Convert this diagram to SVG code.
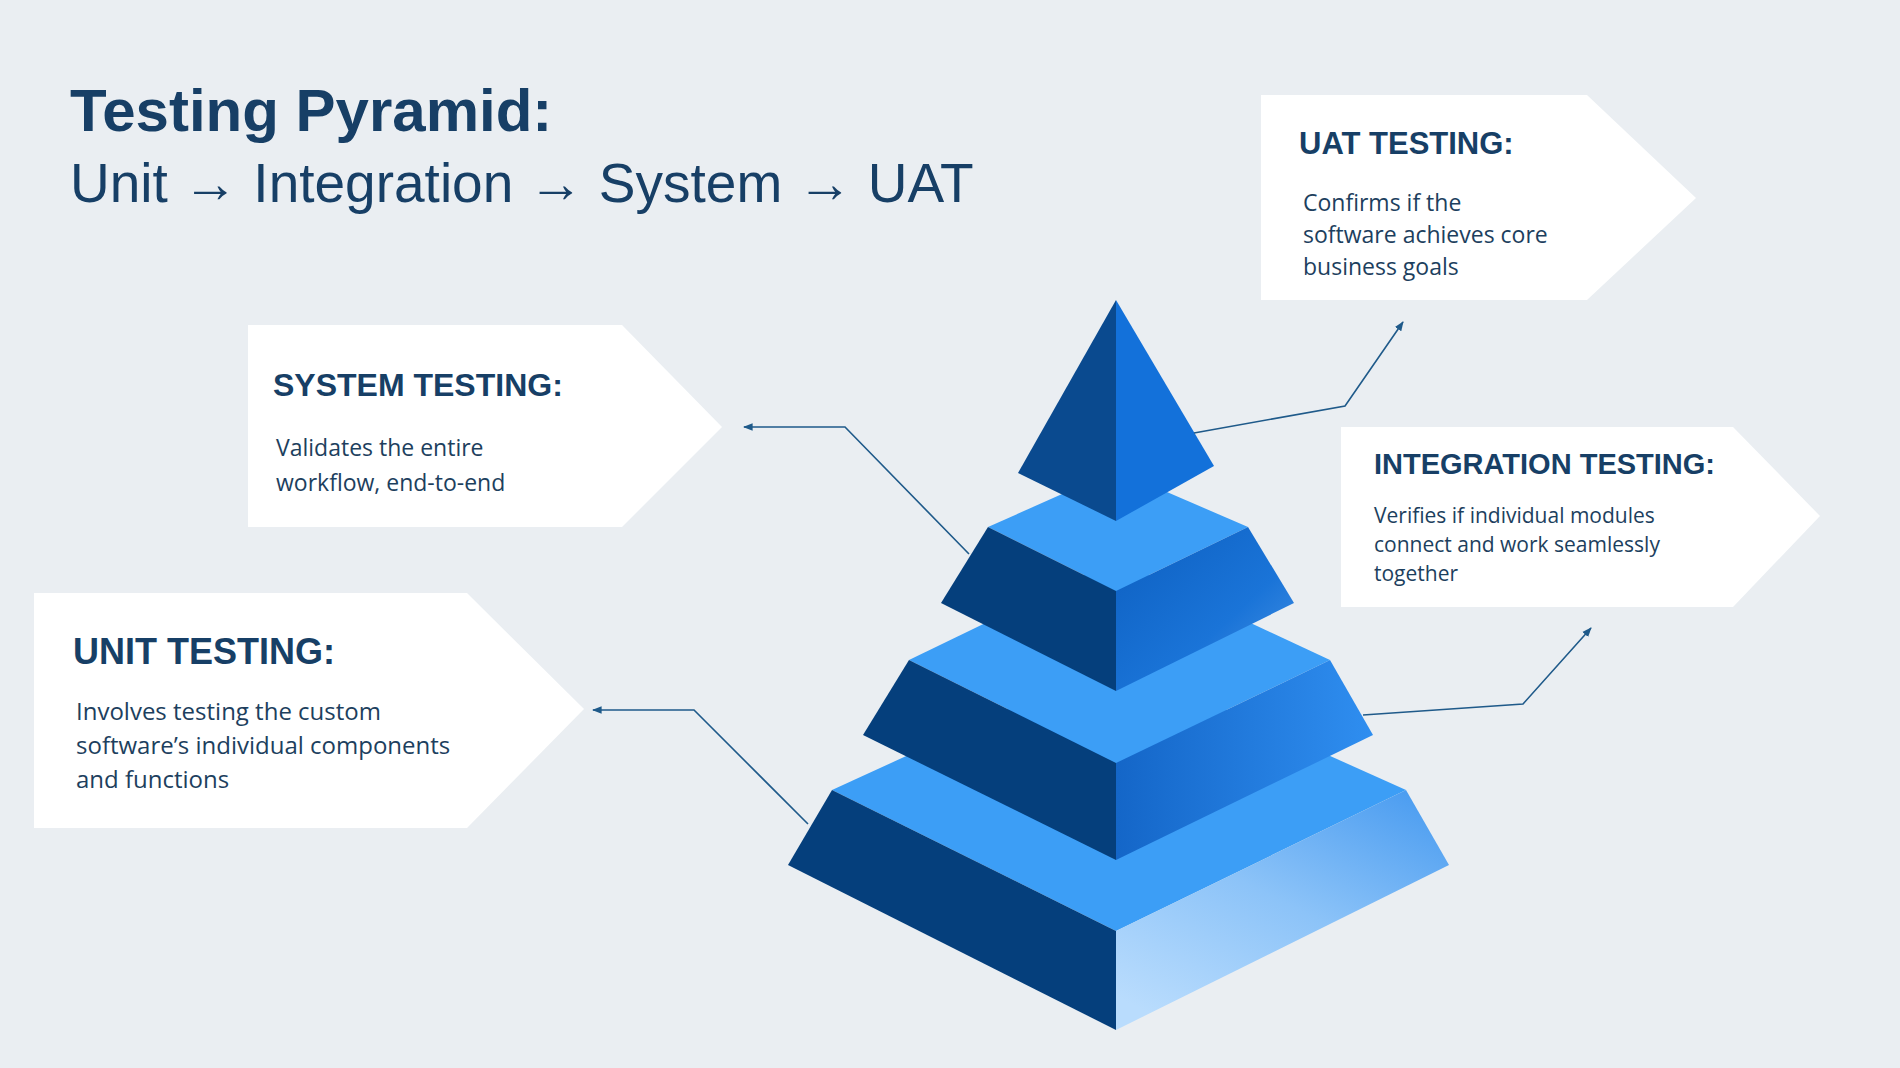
<svg xmlns="http://www.w3.org/2000/svg" width="1900" height="1068" viewBox="0 0 1900 1068">
<style>
.h{font-family:"Liberation Sans",Arial,sans-serif;font-weight:bold;fill:#173f66}
.b{font-family:"Open Sans","Liberation Sans",sans-serif;fill:#1d3f5e}
.box{fill:#ffffff}
.c{fill:none;stroke:#1f5a8a;stroke-width:1.6}
.dk{fill:#053f7c}.tp{fill:#3c9ef6}
</style>
<defs>
<marker id="ah" viewBox="0 0 10 10" refX="9" refY="5" markerWidth="6" markerHeight="6" orient="auto"><path d="M0,1 L10,5 L0,9 z" fill="#1f5a8a"/></marker>
<linearGradient id="r2" x1="0" y1="0" x2="1" y2="1"><stop offset="0" stop-color="#0d5fc0"/><stop offset="0.6" stop-color="#1a74d8"/><stop offset="1" stop-color="#4b95e6"/></linearGradient>
<linearGradient id="r3" x1="0" y1="0" x2="1" y2="0"><stop offset="0" stop-color="#1466c8"/><stop offset="1" stop-color="#2f8ef0"/></linearGradient>
<linearGradient id="r4" x1="0.2" y1="1" x2="0.9" y2="0"><stop offset="0" stop-color="#b9dcfd"/><stop offset="0.5" stop-color="#8cc3f8"/><stop offset="1" stop-color="#4a9cf0"/></linearGradient>
</defs>
<rect width="1900" height="1068" fill="#eaeef2"/>
<g id="title">
<text class="h" x="70" y="131" font-size="60">Testing Pyramid:</text>
<text x="70" y="202" font-size="55" font-family="Liberation Sans,Arial,sans-serif" fill="#173f66">Unit → Integration → System → UAT</text>
</g>
<g id="pyramid">
<polygon class="tp" points="832,790 1116,660 1406,790 1116,931"/>
<polygon class="dk" points="832,790 788,865 1116,1030 1116,931"/>
<polygon fill="url(#r4)" points="1116,931 1406,790 1449,865 1116,1030"/>
<polygon class="tp" points="909,660 1116,560 1330,660 1116,763"/>
<polygon class="dk" points="909,660 863,735 1116,860 1116,763"/>
<polygon fill="url(#r3)" points="1116,763 1330,660 1373,735 1116,860"/>
<polygon class="tp" points="988,527 1116,470 1248,527 1116,591"/>
<polygon class="dk" points="988,527 941,603 1116,691 1116,591"/>
<polygon fill="url(#r2)" points="1116,591 1248,527 1294,603 1116,691"/>
<polygon fill="#0a4a8f" points="1116,300 1018,473 1116,521"/>
<polygon fill="#1371da" points="1116,300 1214,466 1116,521"/>
</g>
<g id="connectors">
<polyline class="c" points="1194,433 1345,406 1403,322" marker-end="url(#ah)"/>
<polyline class="c" points="969,554 845,427 744,427" marker-end="url(#ah)"/>
<polyline class="c" points="1363,715 1523,704 1591,628" marker-end="url(#ah)"/>
<polyline class="c" points="808,824 694,710 593,710" marker-end="url(#ah)"/>
</g>
<g id="uat">
<polygon class="box" points="1261,95 1587,95 1696,198 1587,300 1261,300"/>
<text class="h" x="1299" y="154" font-size="31">UAT TESTING:</text>
<text class="b" font-size="23"><tspan x="1303" y="211">Confirms if the</tspan><tspan x="1303" y="243">software achieves core</tspan><tspan x="1303" y="275">business goals</tspan></text>
</g>
<g id="system">
<polygon class="box" points="248,325 622,325 722,427 622,527 248,527"/>
<text class="h" x="273" y="396" font-size="32">SYSTEM TESTING:</text>
<text class="b" font-size="23"><tspan x="276" y="456">Validates the entire</tspan><tspan x="276" y="491">workflow, end-to-end</tspan></text>
</g>
<g id="integration">
<polygon class="box" points="1341,427 1733,427 1820,516 1733,607 1341,607"/>
<text class="h" x="1374" y="474" font-size="29">INTEGRATION TESTING:</text>
<text class="b" font-size="21"><tspan x="1374" y="523">Verifies if individual modules</tspan><tspan x="1374" y="552">connect and work seamlessly</tspan><tspan x="1374" y="581">together</tspan></text>
</g>
<g id="unit">
<polygon class="box" points="34,593 467,593 584,709 467,828 34,828"/>
<text class="h" x="73" y="664" font-size="36">UNIT TESTING:</text>
<text class="b" font-size="24"><tspan x="76" y="720">Involves testing the custom</tspan><tspan x="76" y="754">software’s individual components</tspan><tspan x="76" y="788">and functions</tspan></text>
</g>
</svg>
